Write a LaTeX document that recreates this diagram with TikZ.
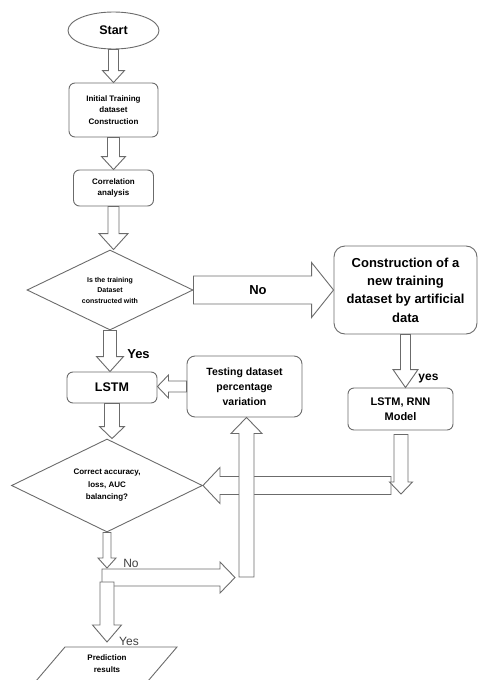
\documentclass[tikz,border=0pt]{standalone}
\usepackage{fontspec}
\setmainfont{Liberation Sans}
\usetikzlibrary{positioning,arrows.meta,shapes.geometric,calc}

\definecolor{edgegray}{gray}{0.42}
\newcommand{\fsz}[2]{\fontsize{#1}{#2}\selectfont}
% hollow block arrow: from, to, shaft half width, head half width, head length
\newcommand{\blkarrow}[5]{%
  \coordinate (hb) at ($(#2)!#5!(#1)$);
  \draw[blk] ($(#1)!#3!90:(#2)$) -- ($(hb)!#3!90:(#2)$) -- ($(hb)!#4!90:(#2)$) -- (#2)
    -- ($(hb)!#4!-90:(#2)$) -- ($(hb)!#3!-90:(#2)$) -- ($(#1)!#3!-90:(#2)$) -- cycle;}

\begin{document}
\begin{tikzpicture}[x=1pt,y=-1pt,
  box/.style={draw=edgegray,line width=0.9pt,rounded corners=6pt,align=center,
    inner sep=0pt,font=\bfseries\fsz{8}{11.7}},
  terminal/.style={ellipse,draw=edgegray,line width=0.9pt,inner sep=0pt,
    minimum width=91pt,minimum height=37pt,font=\bfseries\fsz{12.5}{14}},
  decision/.style={diamond,draw=edgegray,line width=0.9pt,inner sep=0pt,aspect=2,
    align=center},
  io/.style={inner sep=0pt,align=center,font=\bfseries\fsz{8}{12}},
  iodraw/.style={draw=edgegray,line width=0.9pt,line join=miter},
  blk/.style={draw=edgegray,fill=white,line width=0.9pt,line join=miter},
  lblbold/.style={inner sep=0pt,font=\bfseries\fsz{13}{14}},
  lblthin/.style={inner sep=0pt,text=black!75,font=\fsz{12}{14}}]

  \useasboundingbox (0,0) rectangle (479,680);
  \clip (0,0) rectangle (479,680);

  % Main column
  \node[terminal] (start) at (113.5,30.5) {Start};
  \node[box,minimum width=89pt,minimum height=54pt] (init) at (113.5,110)
    {Initial Training\\dataset\\Construction};
  \node[box,minimum width=80pt,minimum height=36pt] (corr) at (113.5,188)
    {Correlation\\analysis};
  \node[decision,minimum width=166pt,minimum height=80pt,font=\bfseries\fsz{7}{10.5}]
    (q1) at (110,290) {Is the training\\Dataset\\constructed with};
  \node[box,minimum width=90pt,minimum height=31pt,font=\bfseries\fsz{12.5}{14}]
    (lstm) at (112,387.5) {LSTM};
  \node[decision,minimum width=191pt,minimum height=93pt,font=\bfseries\fsz{8}{12.5}]
    (q2) at (107,485.5) {Correct accuracy,\\loss, AUC\\balancing?};
  \node[io] (result) at (107,663.5) {Prediction\\results};
  \draw[iodraw] ($(result.center)+(-42,-16.5)$) -- ($(result.center)+(70,-16.5)$)
    -- ($(result.center)+(41,17.5)$) -- ($(result.center)+(-71,17.5)$) -- cycle;

  % Right side
  \node[box,rounded corners=11pt,minimum width=143pt,minimum height=88pt,
    font=\bfseries\fsz{13}{18.3}] (newdata) at (405.5,290)
    {Construction of a\\new training\\dataset by artificial\\data};
  \node[box,rounded corners=8pt,minimum width=115pt,minimum height=61pt,
    font=\bfseries\fsz{10.5}{15}] (test) at (244.5,386.5)
    {Testing dataset\\percentage\\variation};
  \node[box,minimum width=105pt,minimum height=42pt,font=\bfseries\fsz{11}{15}]
    (model) at (400.5,409) {LSTM, RNN\\Model};

  % Free ends
  \coordinate (corrend) at (corr.south |- q1.north);
  \coordinate (yesend) at (q1.south |- lstm.north);
  \coordinate (newend) at (newdata.south |- model.north);
  \coordinate (testend) at (test.west -| lstm.east);
  \coordinate (lstmend) at (lstm.south |- q2.north);
  \coordinate (mdown) at ($(model.south)+(0.5,4)$);
  \coordinate (mtip) at (401,494);
  \coordinate (lstart) at (391,485.5);
  \coordinate (upstart) at (246.5,577);
  \coordinate (uptip) at (upstart |- test.south);
  \coordinate (split) at (107,568);
  \coordinate (hstart) at (102,577.5);
  \coordinate (htip) at (235,577.5);
  \coordinate (ystart) at (107,582);
  \coordinate (ytip) at (107,642);

  % Block arrows
  \blkarrow{start.south}{init.north}{5pt}{11pt}{12pt}
  \blkarrow{init.south}{corr.north}{6pt}{12pt}{13pt}
  \blkarrow{corr.south}{corrend}{5.5pt}{14.5pt}{16pt}
  \blkarrow{q1.east}{newdata.west}{14pt}{27.5pt}{22pt}
  \blkarrow{q1.south}{yesend}{6.5pt}{13.5pt}{15pt}
  \blkarrow{newdata.south}{newend}{5pt}{12.5pt}{18pt}
  \blkarrow{test.west}{testend}{5.5pt}{11.5pt}{11pt}
  \blkarrow{lstm.south}{lstmend}{7.5pt}{12.5pt}{12pt}
  \blkarrow{lstart}{q2.east}{9pt}{18pt}{17pt}
  \blkarrow{mdown}{mtip}{7pt}{11.5pt}{12pt}
  \blkarrow{upstart}{uptip}{7.5pt}{15.5pt}{16pt}
  \blkarrow{q2.south}{split}{4pt}{9pt}{10pt}
  \blkarrow{hstart}{htip}{8.5pt}{15.5pt}{15pt}
  \blkarrow{ystart}{ytip}{7pt}{14.5pt}{17pt}

  % Labels
  \node[lblbold] (nolbl) at (258,290) {No};
  \node[lblbold] (yeslbl) at (138.5,354) {Yes};
  \node[lblbold,font=\bfseries\fsz{12}{14}] (yesmodel) at (428.5,379) {yes};
  \node[lblthin] (nobottom) at (131,563) {No};
  \node[lblthin] (yesbottom) at (129,641) {Yes};
\end{tikzpicture}
\end{document}
